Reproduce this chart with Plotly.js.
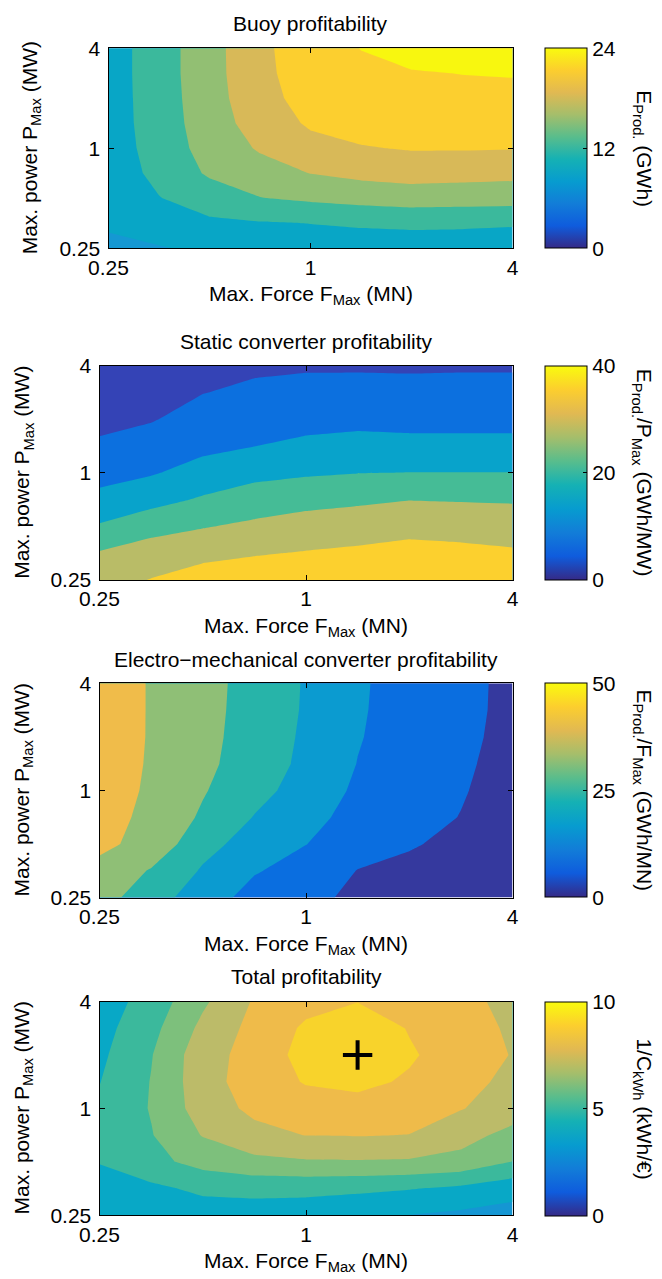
<!DOCTYPE html>
<html>
<head>
<meta charset="utf-8">
<script src="https://cdn.plot.ly/plotly-3.0.1.min.js"></script>
<style>
  html, body { margin: 0; padding: 0; background: #ffffff; }
  #chart { width: 662px; height: 1279px; }
</style>
</head>
<body>
<div id="chart"></div>
<script>
// ---------------- DATA ----------------
// Grid of the design study: maximum force (MN) and maximum power (MW)
const forceMN = [0.25, 0.354, 0.5, 0.707, 1, 1.414, 2, 2.828, 4];
const powerMW = [0.25, 0.354, 0.5, 0.707, 1, 1.414, 2, 2.828, 4];

// Buoy profitability: E_Prod (GWh); rows follow powerMW, columns follow forceMN
const eProd = [
  [5.5, 5.8, 6.6, 7.0, 7.2, 7.3, 7.4, 7.4, 7.3],
  [6.3, 7.6, 8.5, 8.8, 9.05, 9.4, 9.6, 9.5, 9.3],
  [7.0, 8.9, 10.4, 11.9, 12.5, 13.0, 13.4, 13.3, 13.2],
  [7.3, 9.8, 12.4, 13.8, 15.05, 15.8, 16.2, 16.0, 15.8],
  [7.5, 10.2, 13.2, 15.3, 17.0, 17.8, 18.2, 18.2, 18.1],
  [7.6, 10.4, 13.6, 16.3, 18.4, 19.2, 19.4, 19.4, 19.3],
  [7.6, 10.5, 13.8, 16.9, 19.2, 20.0, 20.2, 20.2, 20.1],
  [7.6, 10.6, 13.9, 17.2, 19.6, 20.5, 20.8, 21.05, 21.2],
  [7.6, 10.6, 13.9, 17.3, 19.8, 21.05, 22.2, 22.4, 22.6]
];
// Static converter profitability: E_Prod / P_Max (GWh/MW)
const ePerPower = [
  [23.0, 25.2, 27.0, 28.0, 28.8, 29.3, 29.8, 29.6, 29.2],
  [20.4, 22.3, 23.8, 24.6, 25.3, 25.9, 26.6, 26.2, 25.6],
  [15.5, 18.3, 19.7, 21.0, 22.0, 22.6, 23.5, 23.2, 22.8],
  [11.3, 13.3, 15.6, 17.3, 18.5, 19.2, 19.9, 19.7, 19.5],
  [8.4, 9.6, 11.8, 13.7, 14.4, 14.9, 15.1, 15.1, 15.1],
  [5.7, 7.0, 8.9, 9.95, 10.9, 11.4, 11.2, 11.2, 11.2],
  [3.8, 4.7, 6.8, 7.8, 8.6, 8.9, 8.7, 8.7, 8.7],
  [2.5, 3.2, 4.9, 5.8, 6.1, 6.2, 6.2, 6.2, 6.2],
  [1.9, 2.6, 3.5, 4.3, 4.6, 4.6, 4.5, 4.6, 4.6]
];
// Electro-mechanical converter profitability: E_Prod / F_Max (GWh/MN)
const ePerForce = [
  [22.5, 16.5, 13.2, 7.7, 6.0, 4.2, 3.3, 2.6, 2.0],
  [23.7, 19.6, 14.5, 10.5, 7.6, 4.9, 4.2, 3.3, 2.4],
  [26.0, 23.5, 16.6, 13.0, 10.1, 6.8, 5.3, 4.2, 2.8],
  [26.6, 24.0, 19.3, 14.8, 11.8, 8.1, 6.3, 4.9, 3.1],
  [27.0, 24.4, 20.4, 16.6, 13.0, 9.2, 7.1, 5.3, 3.4],
  [27.2, 24.6, 21.0, 17.9, 13.8, 9.9, 7.6, 5.5, 3.9],
  [27.3, 24.7, 21.3, 18.1, 14.2, 10.3, 7.9, 5.6, 4.25],
  [27.4, 24.7, 21.5, 18.2, 14.5, 10.5, 8.1, 5.7, 4.35],
  [27.4, 24.7, 21.6, 18.3, 14.6, 10.6, 8.2, 5.7, 4.4]
];
// Total profitability: 1 / C_kWh (kWh/EUR)
const invCost = [
  [3.3, 3.4, 3.5, 3.5, 3.4, 3.2, 2.98, 2.8, 2.6],
  [3.5, 3.8, 4.2, 4.3, 4.3, 4.2, 4.05, 3.8, 3.4],
  [4.05, 4.7, 5.35, 5.75, 5.9, 5.92, 5.88, 5.7, 4.98],
  [4.1, 4.95, 6.05, 6.7, 7.02, 7.05, 6.98, 6.35, 5.7],
  [4.2, 5.06, 6.48, 7.22, 7.55, 7.7, 7.6, 7.05, 6.5],
  [3.97, 5.04, 6.6, 7.47, 8.07, 8.2, 7.9, 7.4, 6.7],
  [3.8, 4.95, 6.6, 7.37, 8.35, 8.7, 8.1, 7.6, 6.95],
  [3.65, 4.7, 6.25, 7.3, 8.15, 8.55, 7.95, 7.45, 6.85],
  [3.5, 4.4, 5.83, 7.1, 7.7, 7.98, 7.6, 7.2, 6.8]
];
// Optimum marked with "+"
const optForce = [1.414];
const optPower = [2];

// Contour levels and colour-bar ticks
const eProdLevels = [6, 9, 12, 15, 18, 21];
const ePerPowerLevels = [5, 10, 15, 20, 25];
const ePerForceLevels = [5, 10, 15, 20, 25];
const invCostLevels = [3, 4, 5, 6, 7, 8];
const eProdTicks = [0, 12, 24];
const ePerPowerTicks = [0, 20, 40];
const ePerForceTicks = [0, 25, 50];
const invCostTicks = [0, 5, 10];

// Axis ticks
const axisTickVals = [0.25, 1, 4];
const axisTickText = ['0.25', '1', '4'];

// Texts
const panelTitles = ['Buoy profitability', 'Static converter profitability',
  'Electro\u2212mechanical converter profitability', 'Total profitability'];
const colorTitles = ['E<sub>Prod.</sub> (GWh)', 'E<sub>Prod.</sub>/P<sub>Max</sub> (GWh/MW)',
  'E<sub>Prod.</sub>/F<sub>Max</sub> (GWh/MN)', '1/C<sub>kWh</sub> (kWh/\u20ac)'];
const xTitle = 'Max. Force F<sub>Max</sub> (MN)';
const yTitle = 'Max. power P<sub>Max</sub> (MW)';

// ---------------- STYLE ----------------
const W = 662, H = 1279;
const FONT = 'Liberation Sans, Arial, Helvetica, sans-serif';
const FS = 21;
const parula = [
  [0, 'rgb(53,42,135)'], [0.111, 'rgb(15,92,221)'], [0.222, 'rgb(18,125,216)'],
  [0.333, 'rgb(7,156,207)'], [0.444, 'rgb(21,177,180)'], [0.556, 'rgb(89,189,140)'],
  [0.667, 'rgb(165,190,107)'], [0.778, 'rgb(225,185,82)'], [0.889, 'rgb(252,206,46)'],
  [1, 'rgb(249,251,14)']
];
const bandColors = [
  ['#1598d3', '#08a6c6', '#3bb99c', '#92bf73', '#d8b958', '#fccf2f', '#f8f70f'],
  ['#3443b6', '#0c70df', '#08a3cb', '#45bc96', '#b9bc67', '#fcd02e'],
  ['#35399e', '#0a6ee0', '#0b9bd0', '#27b4a9', '#8fbf76', '#f0bc4a'],
  ['#1596d3', '#08a8c6', '#3bb99c', '#7dc07c', '#bcbb69', '#efbb4a', '#f8d32b']
];

const panels = [
  { z: eProd, levels: eProdLevels, ticks: eProdTicks, top: 48.3, bot: 248.3, left: 108.5, titleY: 24, yLabX: 31 },
  { z: ePerPower, levels: ePerPowerLevels, ticks: ePerPowerTicks, top: 365.7, bot: 580, left: 99.5, titleY: 341.7, yLabX: 23 },
  { z: ePerForce, levels: ePerForceLevels, ticks: ePerForceTicks, top: 683.3, bot: 897.5, left: 99.5, titleY: 659, yLabX: 23 },
  { z: invCost, levels: invCostLevels, ticks: invCostTicks, top: 1001.5, bot: 1215.3, left: 99.5, titleY: 976.7, yLabX: 23 }
];
const RIGHT = 512.5;
const CB_LEFT = 545, CB_W = 42, CB_LABEL_X = 643;

const px = x => x / W;
const py = y => 1 - y / H;

const data = [];
const layout = {
  width: W, height: H,
  margin: { l: 0, r: 0, t: 0, b: 0 },
  paper_bgcolor: '#ffffff', plot_bgcolor: '#ffffff',
  font: { family: FONT, size: FS, color: '#000000' },
  showlegend: false,
  annotations: []
};

panels.forEach((p, i) => {
  const n = i + 1;
  const xa = 'xaxis' + (n === 1 ? '' : n), ya = 'yaxis' + (n === 1 ? '' : n);
  const xr = 'x' + (n === 1 ? '' : n), yr = 'y' + (n === 1 ? '' : n);
  const cols = bandColors[i];
  const scale = cols.map((c, k) => [k / (cols.length - 1), c]);
  const lv = p.levels;
  data.push({
    type: 'contour', x: forceMN, y: powerMW, z: p.z, xaxis: xr, yaxis: yr,
    autocontour: false,
    contours: { start: lv[0], end: lv[lv.length - 1], size: lv[1] - lv[0], coloring: 'fill', showlines: false },
    line: { width: 0, smoothing: 0 },
    colorscale: scale, showscale: false, hoverinfo: 'skip'
  });
  // colour bar (continuous parula) carried by an empty marker trace
  data.push({
    type: 'scatter', mode: 'markers', x: [null], y: [null], xaxis: xr, yaxis: yr,
    hoverinfo: 'skip',
    marker: {
      color: [p.ticks[0]], cmin: p.ticks[0], cmax: p.ticks[p.ticks.length - 1],
      colorscale: parula, showscale: true,
      colorbar: {
        thickness: CB_W, thicknessmode: 'pixels',
        len: p.bot - p.top, lenmode: 'pixels',
        x: px(CB_LEFT), xanchor: 'left', xpad: 0,
        y: py(p.top), yanchor: 'top', ypad: 0,
        outlinewidth: 1, outlinecolor: '#000000', borderwidth: 0,
        tickvals: p.ticks, ticktext: p.ticks.map(String),
        ticks: 'inside', ticklen: 4, tickcolor: '#000000',
        tickfont: { family: FONT, size: FS, color: '#000000' }
      }
    }
  });
  const axCommon = {
    type: 'log', showgrid: false, zeroline: false,
    showline: true, linecolor: '#000000', linewidth: 1, mirror: 'ticks',
    ticks: 'inside', ticklen: 5, tickcolor: '#000000',
    tickvals: axisTickVals, ticktext: axisTickText,
    tickfont: { family: FONT, size: FS, color: '#000000' },
    fixedrange: true
  };
  layout[xa] = Object.assign({}, axCommon, {
    domain: [px(p.left), px(RIGHT)], anchor: yr,
    range: [Math.log10(forceMN[0]), Math.log10(forceMN[forceMN.length - 1])]
  });
  layout[ya] = Object.assign({}, axCommon, {
    domain: [py(p.bot), py(p.top)], anchor: xr, ticklabelstandoff: 3,
    range: [Math.log10(powerMW[0]), Math.log10(powerMW[powerMW.length - 1])]
  });
  const cx = (p.left + RIGHT) / 2, cy = (p.top + p.bot) / 2;
  layout.annotations.push(
    { text: panelTitles[i], xref: 'paper', yref: 'paper', x: px(cx), y: py(p.titleY),
      xanchor: 'center', yanchor: 'middle', showarrow: false, font: { size: FS } },
    { text: xTitle, xref: 'paper', yref: 'paper', x: px(cx), y: py(p.bot + 32),
      xanchor: 'center', yanchor: 'top', showarrow: false, font: { size: FS } },
    { text: yTitle, xref: 'paper', yref: 'paper', x: px(p.yLabX), y: py(cy), textangle: -90,
      xanchor: 'center', yanchor: 'middle', showarrow: false, font: { size: FS } },
    { text: colorTitles[i], xref: 'paper', yref: 'paper', x: px(CB_LABEL_X), y: py(cy), textangle: 90,
      xanchor: 'center', yanchor: 'middle', showarrow: false, font: { size: FS } }
  );
});

// optimum marker on the total profitability panel
data.push({
  type: 'scatter', mode: 'markers', x: optForce, y: optPower, xaxis: 'x4', yaxis: 'y4',
  hoverinfo: 'skip',
  marker: { symbol: 'cross-thin', size: 21, color: '#000000', line: { width: 4, color: '#000000' } }
});

Plotly.newPlot('chart', data, layout, { staticPlot: true, displayModeBar: false });
</script>
</body>
</html>
